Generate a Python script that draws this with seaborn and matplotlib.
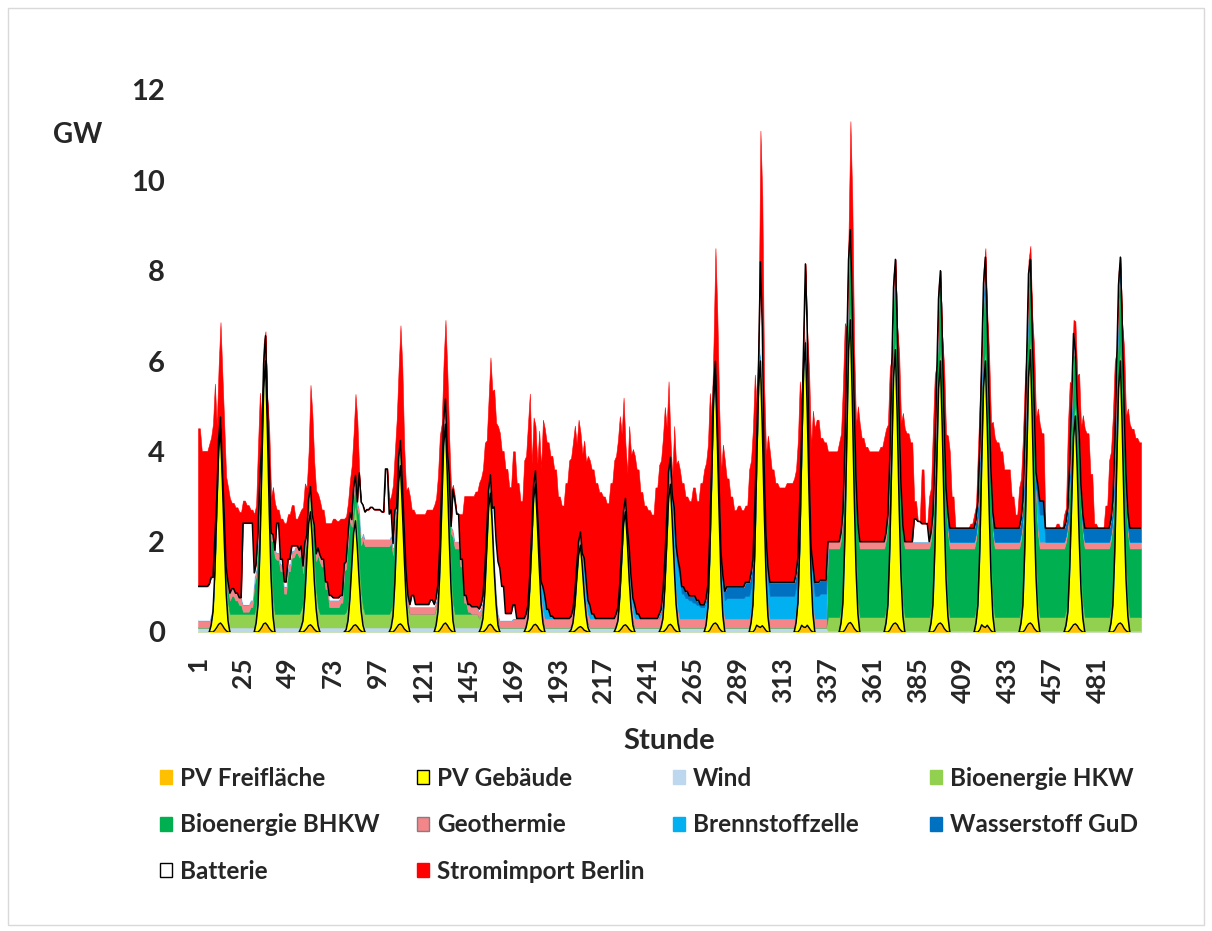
import numpy as np
import pandas as pd
import matplotlib.pyplot as plt
import seaborn as sns
from matplotlib.patches import Patch, Rectangle

# 21 Tage x 24 Stunden, Werte in GW
# Zweistundenwerte: 12 Werte je Tag
tage = 21
stunden = np.arange(1, tage * 24 + 1)
tick_stunden = list(range(1, 505, 24))

wind_tag = [0.1] * 14 + [0.03] * 7
geo_tag = [0.16] * 7 + [0.2] * 7 + [0.15] * 7

hkw_slots = [[0, 0, 0, 0, 0, 0, 0, 0.2, 0.3, 0.3, 0.3, 0.3]] \
    + [[0.3] * 12] * 5 \
    + [[0.3, 0.3, 0.3, 0.2, 0.1, 0, 0, 0, 0, 0, 0, 0]] \
    + [[0] * 12] * 7 + [[0.3] * 12] * 7

bhkw_slots = [
    [0, 0, 0, 0, 0, 0, 0, 0.1, 0.3, 0.4, 0.3, 0.2],
    [0.05, 0.05, 0.15, 0.65, 0.95, 0, 0, 0.45, 1.25, 1.2, 0.95, 0.45],
    [0.95, 1.25, 1.35, 1.25, 0.65, 0, 0, 0.65, 1.15, 1.05, 0.55, 0.15],
    [0.15, 0.15, 0.25, 0.95, 1.35, 0.45, 0.45, 1.05, 1.5, 1.5, 1.5, 1.5],
    [1.5, 1.5, 1.5, 1.5, 0.95, 0, 0, 0, 0, 0, 0, 0],
    [0, 0, 0, 0, 0, 0, 0, 0.85, 1.45, 1.45, 1.05, 0.25],
    [0.05, 0, 0, 0, 0.1, 0.1, 0.1, 0, 0, 0, 0, 0],
] + [[0] * 12] * 7 + [[1.52] * 12] * 5 + [
    [1.52] * 6 + [0.97] + [1.52] * 5,
    [1.52] * 12,
]

bz_slots = [[0] * 12] * 7 + [
    [0, 0, 0, 0, 0, 0, 0, 0.2, 0.45, 0.2, 0.05, 0],
    [0, 0, 0, 0, 0, 0, 0, 0.4, 0.25, 0.1, 0, 0],
    [0, 0, 0, 0, 0, 0, 0, 0.35, 0.25, 0.1, 0, 0],
    [0, 0, 0, 0.1, 0.25, 0.25, 0.25, 0.85, 0.9, 0.55, 0.45, 0.4],
    [0.35, 0.3, 0.25, 0.25, 0.15, 0, 0, 0.2, 0.4, 0.45, 0.45, 0.45],
    [0.45, 0.45, 0.5, 0.5, 0.45, 0.1, 0, 0.4, 0.5, 0.5, 0.5, 0.5],
    [0.5, 0.5, 0.5, 0.5, 0.45, 0.05, 0, 0.2, 0.5, 0.5, 0.55, 0.55],
] + [[0] * 12] * 4 + [
    [0, 0, 0, 0, 0, 0, 0, 0, 0.6, 0.6, 0, 0],
] + [[0] * 12] * 2

h2_slots = [[0] * 12] * 7 + [
    [0, 0, 0, 0, 0, 0, 0, 0, 0.05, 0, 0, 0],
    [0, 0, 0, 0, 0, 0, 0, 0.1, 0.05, 0, 0, 0],
    [0, 0, 0, 0, 0, 0, 0, 0.05, 0.05, 0, 0, 0],
    [0, 0, 0, 0, 0.05, 0.05, 0.05, 0.15, 0.2, 0.15, 0.15, 0.1],
    [0.15, 0.1, 0.05, 0.05, 0.05, 0, 0, 0.1, 0.2, 0.25, 0.25, 0.25],
    [0.25, 0.25, 0.3, 0.3, 0.25, 0.1, 0, 0.2, 0.3, 0.3, 0.3, 0.3],
    [0.3, 0.3, 0.3, 0.3, 0.25, 0.05, 0, 0.1, 0.3, 0.3, 0.3, 0.3],
    [0] * 12,
    [0] * 12,
    [0, 0, 0, 0, 0, 0, 0, 0, 0.3, 0.3, 0.3, 0.3],
    [0.3] * 12,
    [0.3] * 6 + [0] + [0.3] * 5,
    [0.3] * 6 + [0] + [0.3] * 5,
    [0.3] * 12,
]

batt_slots = [
    [0.75, 0.75, 0.75, 0.8, 0.5, 0, 0, 0, 0, 0, 0, 0],
    [1.8, 1.8, 1.7, 0.1, 0.1, 0, 0, 0, 0, 0.65, 0.1, 0.1],
    [0.1, 0.1, 0, 0, 0, 0, 0, 0, 0, 0, 0, 0.1],
    [0.05, 0.05, 0, 0, 0, 0, 0, 0.8, 0.6, 0.65, 0.7, 0.65],
    [0.65, 0.6, 1.55, 0.55, 0.1, 0, 0, 0.05, 0.05, 0.25, 0.05, 0.05],
    [0.05, 0.05, 0.15, 0.05, 0.05, 0, 0, 0, 0.9, 0.6, 0, 0],
    [0, 0, 0, 0.05, 0.05, 0.05, 0.05, 1.15, 1.15, 0.75, 0.15, 0.15],
    [0.3] + [0] * 11,
    [0] * 12,
    [0] * 12,
    [0] * 12,
    [0] * 12,
    [0, 0, 0, 0, 0, 0, 1.9, 0, 0, 0, 0, 0],
    [0, 0, 0, 0, 0, 0.1, 1.45, 0, 0, 0, 0, 0],
    [0] * 12,
    [0] * 11 + [0.5],
    [0.45, 0.4, 0.4, 0, 0, 0, 0, 0, 0, 0, 0, 0],
    [0] * 12,
    [0] * 12,
    [0] * 12,
    [0] * 12,
]

import_slots = [
    [3.5, 3.0, 3.0, 3.1, 3.4, 1.6, 2.1, 2.0, 2.1, 1.9, 1.9, 1.9],
    [0.5, 0.4, 0.3, 1.3, 1.9, 0.45, 0.1, 0.8, 1.05, 0.3, 0.9, 1.3],
    [1.0, 0.9, 0.6, 0.8, 1.3, 1.05, 2.25, 1.4, 1.2, 1.1, 1.3, 1.6],
    [1.75, 1.7, 1.7, 1.0, 0.7, 1.2, 1.8, 0, 0, 0, 0, 0],
    [0, 0, 0, 0.3, 1.3, 1.95, 2.55, 1.8, 2.4, 1.9, 2.0, 2.0],
    [2.0, 2.1, 2.0, 2.2, 2.4, 1.3, 1.75, 0.8, 0.1, 0, 1.0, 2.2],
    [2.4, 2.45, 2.55, 2.8, 2.8, 2.0, 2.6, 2.6, 3.0, 3.0, 3.2, 2.8],
    [3.4, 3.0, 2.6, 3.5, 4.0, 1.5, 1.0, 2.5, 3.7, 3.7, 3.55, 3.3],
    [2.7, 2.5, 3.0, 3.5, 3.7, 2.7, 2.2, 2.6, 3.2, 3.2, 3.0, 2.8],
    [2.7, 2.55, 3.0, 3.5, 3.7, 2.5, 1.2, 2.7, 3.3, 3.2, 2.8, 2.5],
    [2.4, 2.3, 2.9, 3.3, 3.4, 2.0, 0.4, 1.8, 2.2, 2.3, 2.1, 2.1],
    [2.4, 2.2, 2.7, 3.0, 3.1, 1.0, 2.5, 1.8, 2.9, 2.4, 2.0, 1.7],
    [1.8, 1.7, 1.7, 2.5, 2.9, 0.8, 2.9, 1.8, 2.9, 2.5, 2.2, 2.1],
    [2.1, 2.2, 2.2, 2.3, 2.6, 0.6, 0, 2.2, 3.4, 3.6, 3.15, 3.05],
    [2.0, 2.0, 2.0, 2.2, 2.8, 0.6, 2.4, 1.2, 2.6, 2.3, 2.1, 2.0],
    [2.0, 2.0, 2.1, 2.3, 2.0, 0.3, 0, 1.4, 2.5, 2.4, 2.2, 0.4],
    [0, 1.2, 0, 1.0, 1.9, 0.3, 0, 1.2, 1.7, 0.7, 0, 0],
    [0, 0, 0.1, 0.3, 1.1, 0.3, 0.2, 1.1, 2.0, 1.9, 1.7, 1.3],
    [1.3, 0.7, 0.3, 0.9, 1.4, 0.3, 0.3, 1.2, 1.7, 1.5, 0, 0],
    [0, 0.1, 0, 0.3, 1.8, 0.3, 0.65, 1.3, 2.2, 2.1, 1.2, 0.1],
    [0, 0, 0.5, 1.5, 1.9, 0.3, 0, 1.3, 2.3, 2.2, 2.0, 1.9],
]

# PV Gebaeude: Stunden 8-17 jedes Tages
pv_geb_mittag = [
    [0.15, 0.45, 1.3, 2.6, 3.85, 4.3, 3.2, 1.95, 0.85, 0.25],
    [0.2, 0.6, 1.75, 3.5, 5.2, 5.8, 4.35, 2.6, 1.15, 0.35],
    [0.1, 0.25, 0.75, 1.5, 2.25, 2.5, 1.9, 1.1, 0.5, 0.15],
    [0.05, 0.25, 0.7, 1.4, 2.05, 2.3, 1.75, 1.05, 0.45, 0.15],
    [0.1, 0.35, 1.05, 2.1, 3.15, 3.5, 2.6, 1.6, 0.7, 0.2],
    [0.15, 0.45, 1.3, 2.65, 3.95, 4.4, 3.3, 2.0, 0.9, 0.25],
    [0.1, 0.3, 0.85, 1.75, 2.6, 2.9, 2.2, 1.3, 0.6, 0.15],
    [0.1, 0.3, 0.95, 1.85, 2.8, 3.1, 2.3, 1.4, 0.6, 0.2],
    [0.05, 0.2, 0.55, 1.1, 1.6, 1.8, 1.35, 0.8, 0.35, 0.1],
    [0.1, 0.25, 0.75, 1.5, 2.25, 2.5, 1.9, 1.1, 0.5, 0.15],
    [0.1, 0.3, 0.95, 1.85, 2.8, 3.1, 2.3, 1.4, 0.6, 0.2],
    [0.15, 0.55, 1.65, 3.3, 4.95, 5.5, 4.1, 2.5, 1.1, 0.35],
    [0.2, 0.6, 1.75, 3.55, 5.3, 5.9, 4.4, 2.65, 1.2, 0.35],
    [0.2, 0.65, 1.9, 3.8, 5.65, 6.3, 4.7, 2.85, 1.25, 0.4],
    [0.2, 0.65, 2.0, 4.0, 6.05, 6.7, 5.0, 3.0, 1.35, 0.4],
    [0.2, 0.6, 1.8, 3.65, 5.45, 6.05, 4.55, 2.7, 1.2, 0.35],
    [0.2, 0.6, 1.75, 3.5, 5.2, 5.8, 4.35, 2.6, 1.15, 0.35],
    [0.2, 0.6, 1.75, 3.55, 5.3, 5.9, 4.4, 2.65, 1.2, 0.35],
    [0.2, 0.6, 1.8, 3.65, 5.45, 6.05, 4.55, 2.7, 1.2, 0.35],
    [0.15, 0.45, 1.4, 2.75, 4.15, 4.6, 3.45, 2.05, 0.9, 0.3],
    [0.2, 0.6, 1.75, 3.5, 5.2, 5.8, 4.35, 2.6, 1.15, 0.35],
]

# PV Freiflaeche: Stunden 10-16 jedes Tages
pv_frei_mittag = [
    [0.04, 0.1, 0.17, 0.2, 0.15, 0.08, 0.03],
    [0.04, 0.1, 0.18, 0.2, 0.15, 0.08, 0.03],
    [0.03, 0.08, 0.14, 0.16, 0.12, 0.06, 0.02],
    [0.03, 0.08, 0.14, 0.16, 0.12, 0.06, 0.02],
    [0.04, 0.1, 0.16, 0.18, 0.14, 0.07, 0.03],
    [0.04, 0.1, 0.17, 0.2, 0.15, 0.08, 0.03],
    [0.03, 0.08, 0.15, 0.17, 0.13, 0.06, 0.02],
    [0.03, 0.08, 0.15, 0.17, 0.13, 0.06, 0.02],
    [0.02, 0.06, 0.1, 0.12, 0.09, 0.04, 0.02],
    [0.03, 0.08, 0.14, 0.16, 0.12, 0.06, 0.02],
    [0.03, 0.08, 0.15, 0.17, 0.13, 0.06, 0.02],
    [0.04, 0.12, 0.18, 0.2, 0.16, 0.08, 0.03],
    [0.05, 0.15, 0.12, 0.1, 0.14, 0.09, 0.03],
    [0.05, 0.15, 0.11, 0.1, 0.15, 0.09, 0.03],
    [0.04, 0.12, 0.19, 0.21, 0.16, 0.08, 0.03],
    [0.04, 0.12, 0.18, 0.2, 0.16, 0.08, 0.03],
    [0.04, 0.12, 0.18, 0.2, 0.16, 0.08, 0.03],
    [0.05, 0.16, 0.12, 0.1, 0.15, 0.09, 0.03],
    [0.04, 0.12, 0.18, 0.2, 0.16, 0.08, 0.03],
    [0.04, 0.1, 0.16, 0.18, 0.14, 0.07, 0.03],
    [0.04, 0.12, 0.18, 0.2, 0.16, 0.08, 0.03],
]

namen = ['PV Freifläche', 'PV Gebäude', 'Wind', 'Bioenergie HKW',
         'Bioenergie BHKW', 'Geothermie', 'Brennstoffzelle',
         'Wasserstoff GuD', 'Batterie', 'Stromimport Berlin']
farben = ['#FFC000', '#FFFF00', '#BDD7EE', '#92D050', '#00B050',
          '#F4868A', '#00B0F0', '#0070C0', '#FFFFFF', '#FF0000']
rahmen = [None, 'black', None, None, None, '#808080', None, None, 'black', None]


def slots_zu_stunden(rows):
    return np.repeat(np.array(rows, dtype=float).ravel(), 2)


def mittag_zu_stunden(rows, erste_stunde):
    rows = np.array(rows, dtype=float)
    tabelle = np.zeros((tage, 24))
    tabelle[:, erste_stunde - 1:erste_stunde - 1 + rows.shape[1]] = rows
    return tabelle.ravel()


df = pd.DataFrame({
    'PV Freifläche': mittag_zu_stunden(pv_frei_mittag, 10),
    'PV Gebäude': mittag_zu_stunden(pv_geb_mittag, 8),
    'Wind': np.repeat(wind_tag, 24),
    'Bioenergie HKW': slots_zu_stunden(hkw_slots),
    'Bioenergie BHKW': slots_zu_stunden(bhkw_slots),
    'Geothermie': np.repeat(geo_tag, 24),
    'Brennstoffzelle': slots_zu_stunden(bz_slots),
    'Wasserstoff GuD': slots_zu_stunden(h2_slots),
    'Batterie': slots_zu_stunden(batt_slots),
    'Stromimport Berlin': slots_zu_stunden(import_slots),
}, index=stunden)

oben = df.cumsum(axis=1)
unten = oben.shift(1, axis=1).fillna(0)

sns.set_theme(style='white')
plt.rcParams['font.family'] = ['Lato', 'DejaVu Sans']
plt.rcParams['font.weight'] = 'bold'

fig = plt.figure(figsize=(12.12, 9.31), dpi=100)
ax = fig.add_axes([198 / 1212, 1 - 632 / 931, 943 / 1212, 542 / 931])

for i, (name, farbe) in enumerate(zip(namen, farben)):
    ax.fill_between(stunden, unten[name], oben[name], facecolor=farbe,
                    edgecolor=farbe, linewidth=0.4, zorder=2 + i)

# Konturen: PV Gebaeude und Batterie
pv = df['PV Gebäude'].values
aktiv = (pv > 0) | (np.roll(pv, 1) > 0) | (np.roll(pv, -1) > 0)
pv_oben = np.where(aktiv, oben['PV Gebäude'].values, np.nan)
pv_unten = np.where(aktiv, oben['PV Freifläche'].values, np.nan)
ax.plot(stunden, pv_oben, color='black', lw=1.1, zorder=20)
ax.plot(stunden, pv_unten, color='black', lw=1.0, zorder=20)
sns.lineplot(x=stunden, y=oben['Batterie'].values, color='black', lw=1.1,
             estimator=None, sort=False, ax=ax, zorder=21)

ax.set_xlim(1, 504)
ax.set_ylim(0, 12)
ax.set_yticks(range(0, 13, 2))
ax.set_xticks(tick_stunden)
ax.set_xticklabels([str(t) for t in tick_stunden], rotation=90,
                   fontsize=19, fontweight='bold')
ax.set_yticklabels([str(v) for v in range(0, 13, 2)], fontsize=21,
                   fontweight='bold')
ax.tick_params(axis='y', length=0, pad=24)
ax.tick_params(axis='x', length=0, pad=18)
for s in ax.spines.values():
    s.set_visible(False)
ax.grid(False)

ax.set_xlabel('Stunde', fontsize=21, fontweight='bold')
ax.xaxis.set_label_coords(0.5, -0.178)
ax.set_ylabel('GW', rotation=0, fontsize=20, fontweight='bold',
              ha='center', va='center')
ax.yaxis.set_label_coords(-0.128, 0.917)

# Legende: vier Spalten, zeilenweise wie im Original
griffe = [Patch(facecolor=f, edgecolor=(r if r else f), linewidth=1.0)
          for f, r in zip(farben, rahmen)]
spalten = [[0, 4, 8], [1, 5, 9], [2, 6], [3, 7]]
spalten_x = [160, 417, 673, 930]
for idx, x in zip(spalten, spalten_x):
    fig.legend([griffe[i] for i in idx], [namen[i] for i in idx],
               loc='upper left', bbox_to_anchor=(x / 1212, 1 - 767 / 931),
               frameon=False, handlelength=0.5, handleheight=0.5,
               handletextpad=0.33, labelspacing=0.96,
               borderpad=0, borderaxespad=0,
               prop={'weight': 'bold', 'size': 17.5})

fig.add_artist(Rectangle((8 / 1212, 6 / 931), 1196 / 1212, 917 / 931,
                         transform=fig.transFigure, fill=False,
                         edgecolor='#D9D9D9', linewidth=1.0))

fig.savefig('out.png', dpi=100, facecolor='white')
